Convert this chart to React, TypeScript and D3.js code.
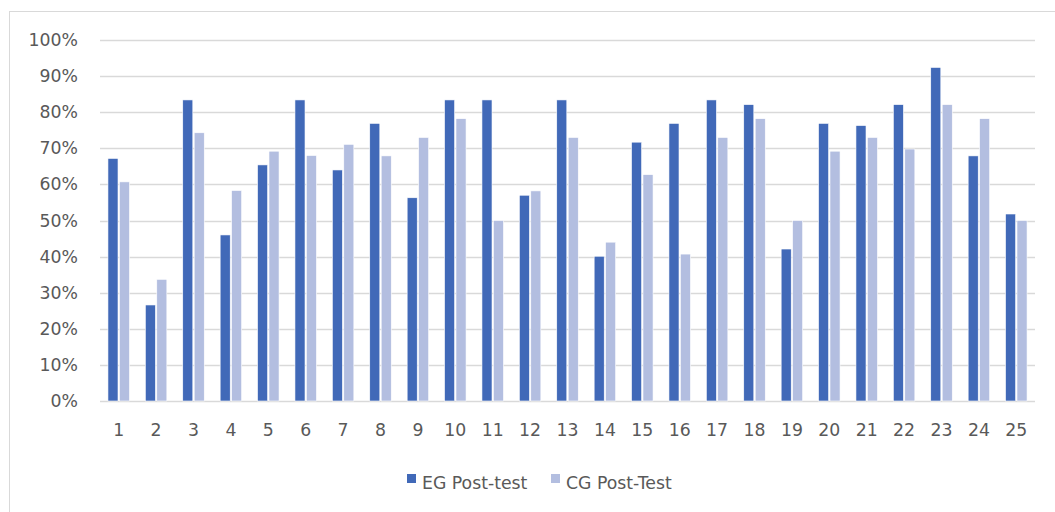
import { useEffect, useRef } from "react";
import * as d3 from "d3";

const W = 1055;
const H = 512;
const M = { top: 40, right: 20, bottom: 111, left: 100 };

const categories = Array.from({ length: 25 }, (_, i) => String(i + 1));
const egPost = [
  0.672, 0.266, 0.834, 0.46, 0.654, 0.834, 0.64, 0.769, 0.563, 0.834, 0.834, 0.57, 0.834,
  0.401, 0.717, 0.769, 0.834, 0.821, 0.421, 0.769, 0.763, 0.821, 0.924, 0.679, 0.518,
];
const cgPost = [
  0.607, 0.337, 0.743, 0.583, 0.692, 0.68, 0.711, 0.679, 0.73, 0.782, 0.5, 0.582, 0.73,
  0.44, 0.627, 0.407, 0.73, 0.782, 0.5, 0.692, 0.73, 0.698, 0.821, 0.782, 0.5,
];
const seriesNames = ["EG Post-test", "CG Post-Test"];
const seriesColors = ["#4169B8", "#B3BEE0"];
const yTicks = [0, 0.1, 0.2, 0.3, 0.4, 0.5, 0.6, 0.7, 0.8, 0.9, 1];

const FONT = "'DejaVu Sans', sans-serif";
const TEXT = "#595959";
const FS = 17.3;

export default function App() {
  const svgRef = useRef<SVGSVGElement>(null);

  useEffect(() => {
    if (!svgRef.current) return;
    const innerW = W - M.left - M.right;
    const innerH = 401 - M.top;

    const root = d3.select(svgRef.current);
    root.selectAll("*").remove();

    // outer chart frame
    root
      .append("rect")
      .attr("x", 9.5)
      .attr("y", 11.5)
      .attr("width", 1060)
      .attr("height", 520)
      .attr("fill", "#fff")
      .attr("stroke", "#d9d9d9");

    const svg = root.append("g").attr("transform", `translate(${M.left},${M.top})`);

    const x = d3
      .scaleBand()
      .domain(categories)
      .range([0, innerW])
      .paddingInner(0.425)
      .paddingOuter(0.2125);
    const xs = d3
      .scaleBand()
      .domain(seriesNames)
      .range([0, x.bandwidth()])
      .paddingInner(0.12);
    const y = d3.scaleLinear().domain([0, 1]).range([innerH, 0]);

    svg
      .append("g")
      .selectAll("line")
      .data(yTicks)
      .join("line")
      .attr("x1", 0)
      .attr("x2", innerW)
      .attr("y1", (d) => Math.round(y(d)) + 0.5)
      .attr("y2", (d) => Math.round(y(d)) + 0.5)
      .attr("stroke", "#d9d9d9")
      .attr("stroke-width", 1.3);

    svg
      .append("g")
      .selectAll("text")
      .data(yTicks)
      .join("text")
      .attr("x", -22)
      .attr("y", (d) => y(d))
      .attr("dy", "0.35em")
      .attr("text-anchor", "end")
      .attr("font-family", FONT)
      .attr("font-size", FS)
      .attr("fill", TEXT)
      .text((d) => d3.format(".0%")(d));

    const data = [egPost, cgPost];
    data.forEach((vals, si) => {
      svg
        .append("g")
        .selectAll("rect")
        .data(vals)
        .join("rect")
        .attr("x", (_, i) => (x(categories[i]) ?? 0) + (xs(seriesNames[si]) ?? 0))
        .attr("y", (d) => y(d))
        .attr("width", xs.bandwidth())
        .attr("height", (d) => innerH - y(d))
        .attr("fill", seriesColors[si])
        .attr("stroke", "#fff")
        .attr("stroke-width", 0.6);
    });

    svg
      .append("g")
      .selectAll("text")
      .data(categories)
      .join("text")
      .attr("x", (d) => (x(d) ?? 0) + x.bandwidth() / 2)
      .attr("y", innerH + 29)
      .attr("dy", "0.35em")
      .attr("text-anchor", "middle")
      .attr("font-family", FONT)
      .attr("font-size", FS)
      .attr("fill", TEXT)
      .text((d) => d);

    // legend
    const legendX = [407, 551];
    const leg = root.append("g");
    seriesNames.forEach((name, i) => {
      leg
        .append("rect")
        .attr("x", legendX[i])
        .attr("y", 474)
        .attr("width", 9)
        .attr("height", 9)
        .attr("fill", seriesColors[i]);
      leg
        .append("text")
        .attr("x", legendX[i] + 15)
        .attr("y", 483)
        .attr("dy", "0.35em")
        .attr("font-family", FONT)
        .attr("font-size", FS)
        .attr("fill", TEXT)
        .text(name);
    });
  }, []);

  return (
    <svg
      ref={svgRef}
      width={W}
      height={H}
      style={{ position: "absolute", left: 0, top: 0, background: "#fff" }}
    />
  );
}
